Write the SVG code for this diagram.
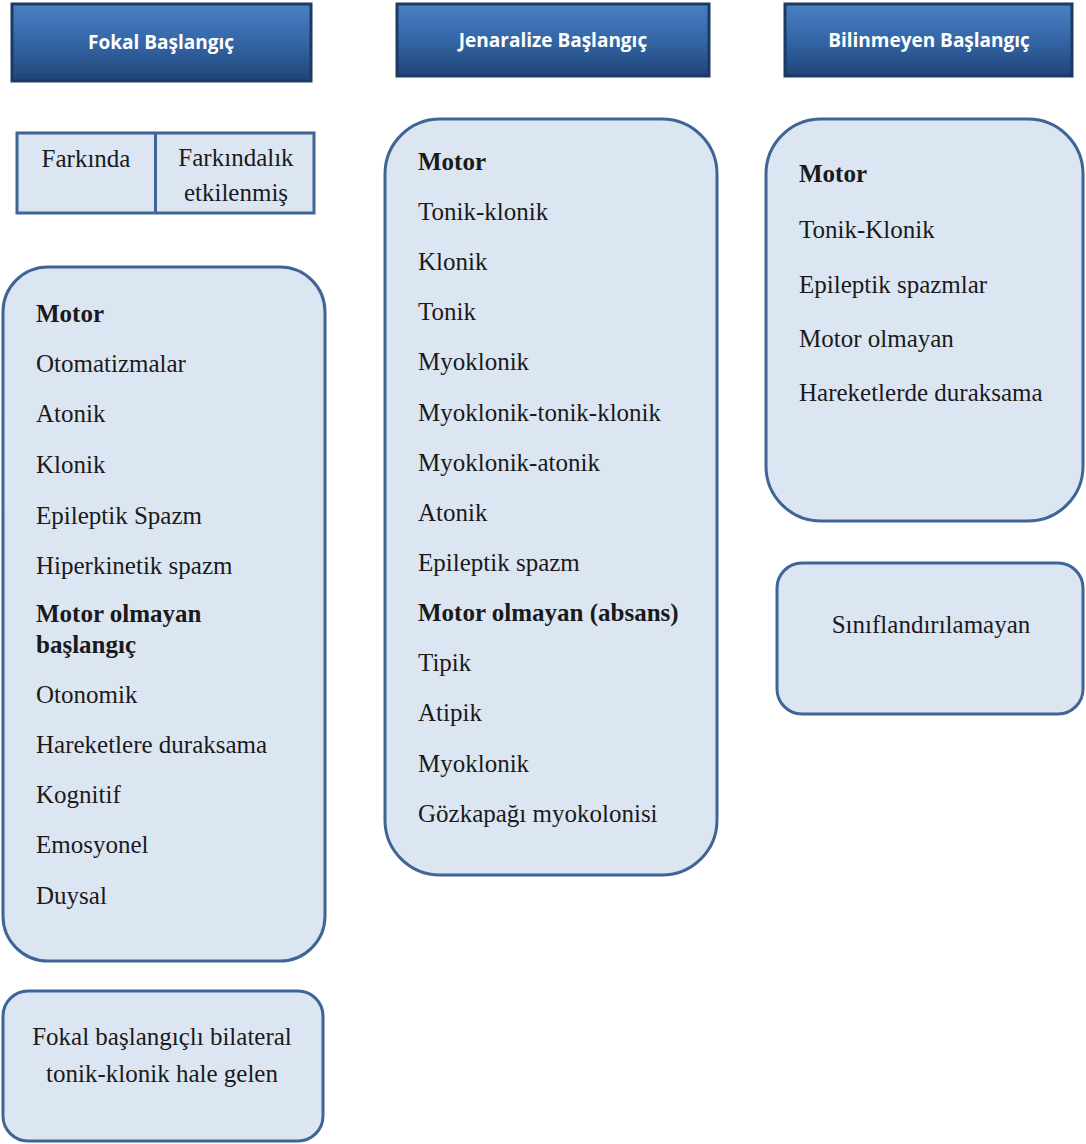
<svg xmlns="http://www.w3.org/2000/svg" width="1086" height="1144" viewBox="0 0 1086 1144">
<defs>
<linearGradient id="hg" x1="0" y1="0" x2="0" y2="1">
<stop offset="0" stop-color="#4a80c4"/>
<stop offset="0.5" stop-color="#3466a6"/>
<stop offset="1" stop-color="#1f4477"/>
</linearGradient>
<style>
.hdr{fill:url(#hg);stroke:#1d3a62;stroke-width:3}
.ht{font-weight:700;font-size:19px;fill:#ffffff;text-anchor:middle}
.box{fill:#dce6f2;stroke:#3f6596;stroke-width:3}
.t{font-size:25px;fill:#1a1a1a}
.b{font-weight:700}
.c{text-anchor:middle}
</style>
</defs>
<rect width="1086" height="1144" fill="#ffffff"/>
<g id="connectors"></g>
<g id="hdr-fokal"><rect class="hdr" x="12" y="4" width="299" height="77"/><text class="ht" font-family="Open Sans" x="161" y="49">Fokal Başlangıç</text></g>
<g id="hdr-jen"><rect class="hdr" x="397" y="4" width="312" height="72"/><text class="ht" font-family="Open Sans" x="553" y="47">Jenaralize Başlangıç</text></g>
<g id="hdr-bil"><rect class="hdr" x="785" y="4" width="287" height="72"/><text class="ht" font-family="Open Sans" x="929" y="47">Bilinmeyen Başlangıç</text></g>
<g id="farkinda">
<rect class="box" x="17" y="133" width="297" height="80"/>
<line x1="155.5" y1="133" x2="155.5" y2="213" stroke="#3f6596" stroke-width="3"/>
<text class="t c" font-family="Liberation Serif" x="86" y="167">Farkında</text>
<text class="t c" font-family="Liberation Serif" x="236" y="166">Farkındalık</text>
<text class="t c" font-family="Liberation Serif" x="236" y="201">etkilenmiş</text>
</g>
<g id="fokal-list">
<rect class="box" x="3" y="267" width="322" height="694" rx="45"/>
<text class="t b" font-family="Liberation Serif" x="36" y="322">Motor</text>
<text class="t" font-family="Liberation Serif" x="36" y="372">Otomatizmalar</text>
<text class="t" font-family="Liberation Serif" x="36" y="422">Atonik</text>
<text class="t" font-family="Liberation Serif" x="36" y="473">Klonik</text>
<text class="t" font-family="Liberation Serif" x="36" y="524">Epileptik Spazm</text>
<text class="t" font-family="Liberation Serif" x="36" y="574">Hiperkinetik spazm</text>
<text class="t b" font-family="Liberation Serif" x="36" y="622">Motor olmayan</text>
<text class="t b" font-family="Liberation Serif" x="36" y="653">başlangıç</text>
<text class="t" font-family="Liberation Serif" x="36" y="703">Otonomik</text>
<text class="t" font-family="Liberation Serif" x="36" y="753">Hareketlere duraksama</text>
<text class="t" font-family="Liberation Serif" x="36" y="803">Kognitif</text>
<text class="t" font-family="Liberation Serif" x="36" y="853">Emosyonel</text>
<text class="t" font-family="Liberation Serif" x="36" y="904">Duysal</text>
</g>
<g id="fokal-bilateral">
<rect class="box" x="3" y="991" width="320" height="150" rx="25"/>
<text class="t c" font-family="Liberation Serif" x="162" y="1045">Fokal başlangıçlı bilateral</text>
<text class="t c" font-family="Liberation Serif" x="162" y="1082">tonik-klonik hale gelen</text>
</g>
<g id="jen-list">
<rect class="box" x="385" y="119" width="332" height="756" rx="55"/>
<text class="t b" font-family="Liberation Serif" x="418" y="170">Motor</text>
<text class="t" font-family="Liberation Serif" x="418" y="220">Tonik-klonik</text>
<text class="t" font-family="Liberation Serif" x="418" y="270">Klonik</text>
<text class="t" font-family="Liberation Serif" x="418" y="320">Tonik</text>
<text class="t" font-family="Liberation Serif" x="418" y="370">Myoklonik</text>
<text class="t" font-family="Liberation Serif" x="418" y="421">Myoklonik-tonik-klonik</text>
<text class="t" font-family="Liberation Serif" x="418" y="471">Myoklonik-atonik</text>
<text class="t" font-family="Liberation Serif" x="418" y="521">Atonik</text>
<text class="t" font-family="Liberation Serif" x="418" y="571">Epileptik spazm</text>
<text class="t b" font-family="Liberation Serif" x="418" y="621">Motor olmayan (absans)</text>
<text class="t" font-family="Liberation Serif" x="418" y="671">Tipik</text>
<text class="t" font-family="Liberation Serif" x="418" y="721">Atipik</text>
<text class="t" font-family="Liberation Serif" x="418" y="772">Myoklonik</text>
<text class="t" font-family="Liberation Serif" x="418" y="822">Gözkapağı myokolonisi</text>
</g>
<g id="bil-list">
<rect class="box" x="766" y="119" width="317" height="402" rx="55"/>
<text class="t b" font-family="Liberation Serif" x="799" y="182">Motor</text>
<text class="t" font-family="Liberation Serif" x="799" y="238">Tonik-Klonik</text>
<text class="t" font-family="Liberation Serif" x="799" y="293">Epileptik spazmlar</text>
<text class="t" font-family="Liberation Serif" x="799" y="347">Motor olmayan</text>
<text class="t" font-family="Liberation Serif" x="799" y="401">Hareketlerde duraksama</text>
</g>
<g id="siniflandirilamayan">
<rect class="box" x="777" y="563" width="306" height="151" rx="25"/>
<text class="t c" font-family="Liberation Serif" x="931" y="633">Sınıflandırılamayan</text>
</g>
</svg>
